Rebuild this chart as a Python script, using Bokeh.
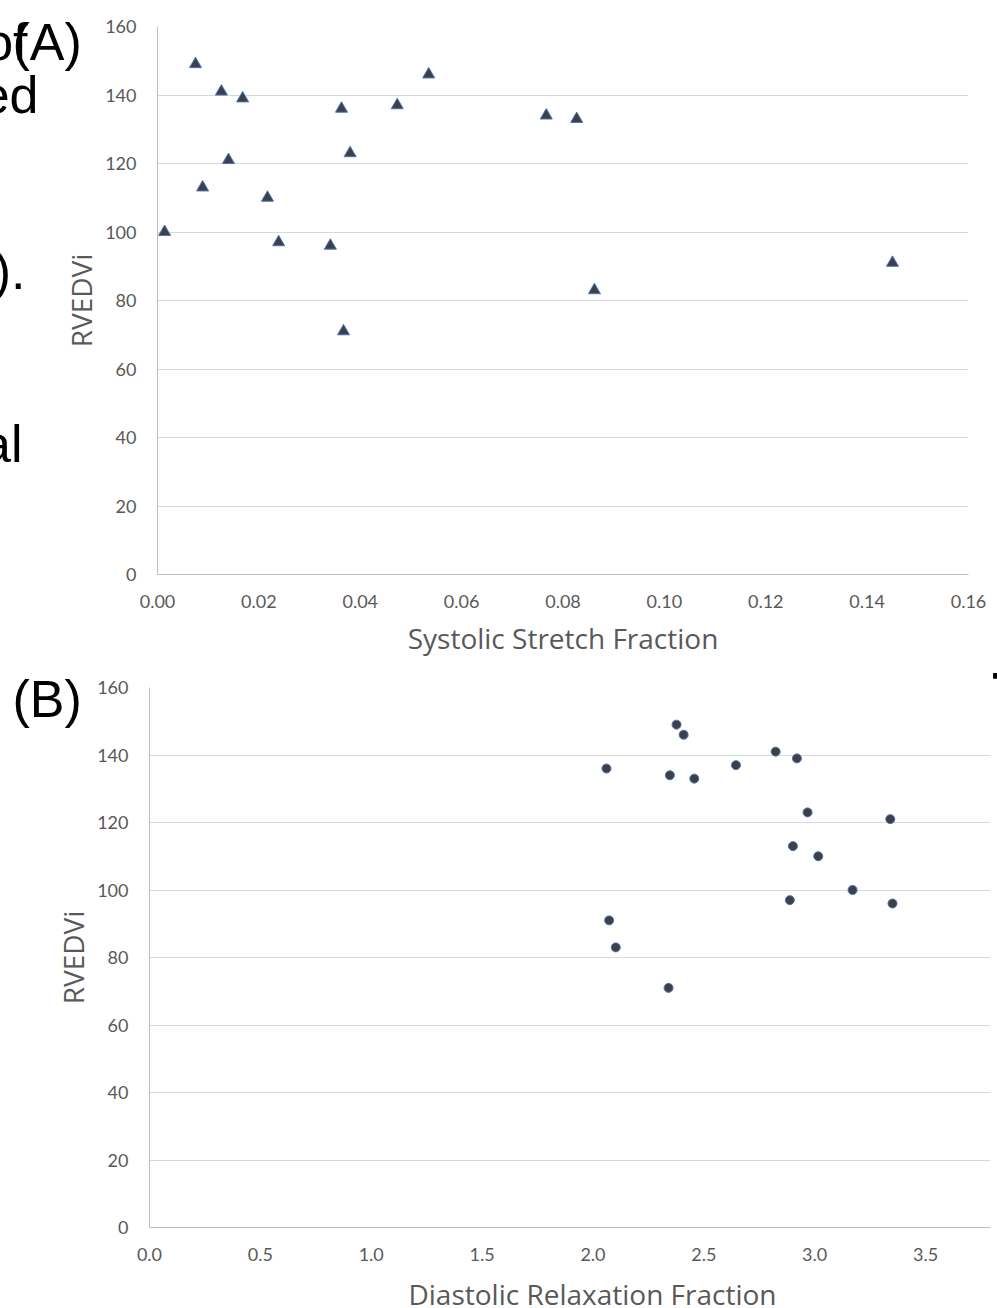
from bokeh.plotting import figure
from bokeh.models import FixedTicker, Range1d, ColumnDataSource
from bokeh.core.properties import value
from bokeh.embed import file_html
from bokeh.resources import INLINE

# ---- data ----
rvedvi = [100, 149, 113, 141, 121, 139, 110, 97, 96, 136, 71, 123, 137, 146, 134, 133, 83, 91]
systolic_stretch = [0.0014, 0.0075, 0.0089, 0.0126, 0.0140, 0.0168, 0.0217, 0.0239, 0.0341,
                    0.0363, 0.0367, 0.0380, 0.0473, 0.0535, 0.0767, 0.0827, 0.0862, 0.1450]
diastolic_relax = [3.171, 2.377, 2.902, 2.824, 3.341, 2.920, 3.016, 2.888, 3.351,
                   2.061, 2.341, 2.968, 2.645, 2.409, 2.347, 2.457, 2.103, 2.073]
y_ticks = [0, 20, 40, 60, 80, 100, 120, 140, 160]
x_ticks_a = [0.0, 0.02, 0.04, 0.06, 0.08, 0.10, 0.12, 0.14, 0.16]
x_labels_a = ["0.00", "0.02", "0.04", "0.06", "0.08", "0.10", "0.12", "0.14", "0.16"]
x_ticks_b = [0.0, 0.5, 1.0, 1.5, 2.0, 2.5, 3.0, 3.5]
x_labels_b = ["0.0", "0.5", "1.0", "1.5", "2.0", "2.5", "3.0", "3.5"]

TICK_FONT = "Lato"
LABEL_FONT = "Open Sans"
GRAY = "#595959"


def style(p, xticks, xlabels, xlabel):
    p.outline_line_color = None
    p.xgrid.grid_line_color = None
    p.ygrid.grid_line_color = "#d9d9d9"
    p.ygrid.grid_line_width = 1
    p.yaxis.ticker = FixedTicker(ticks=y_ticks)
    p.xaxis.ticker = FixedTicker(ticks=xticks)
    p.xaxis.major_label_overrides = {t: l for t, l in zip(xticks, xlabels)}
    for ax in (p.xaxis[0], p.yaxis[0]):
        ax.axis_line_color = "#bfbfbf"
        ax.axis_line_width = 1
        ax.major_tick_line_color = None
        ax.minor_tick_line_color = None
        ax.major_label_text_font = TICK_FONT
        ax.major_label_text_font_size = "18px"
        ax.major_label_text_color = GRAY
        ax.axis_label_text_font = LABEL_FONT
        ax.axis_label_text_font_style = "normal"
        ax.axis_label_text_color = GRAY
        ax.axis_label_text_font_size = "28px"
    if xlabel:
        p.xaxis.axis_label = xlabel
    p.yaxis.axis_label = "RVEDVi"
    p.xaxis.major_label_standoff = 14
    p.yaxis.major_label_standoff = 15
    p.xaxis.axis_label_standoff = 8
    p.yaxis.axis_label_standoff = 2


def fragments(p, left, bottom, xspan, yspan, fw, fh, items, bold=False,
              font="Liberation Sans", size="52px", color="black", baseline="alphabetic"):
    # text placed in page pixels (outside the frame), mapped to data units
    for txt, px, py, align in items:
        xd = (px - left) * xspan / fw
        yd = (bottom - py) * yspan / fh
        p.text(x=[xd], y=[yd], text=[txt], text_align=align, text_baseline=baseline,
               text_font=value(font), text_font_size=size,
               text_font_style="bold" if bold else "normal",
               text_color=color, level="overlay")


# ---- panel A ----
pa = figure(frame_width=811, frame_height=548, min_border_left=157, min_border_right=29,
            min_border_top=26, min_border_bottom=81, x_range=Range1d(0, 0.16),
            y_range=Range1d(0, 160), output_backend="svg", toolbar_location=None)
style(pa, x_ticks_a, x_labels_a, "Systolic Stretch Fraction")
src_a = ColumnDataSource(dict(x=systolic_stretch, y=rvedvi))
pa.scatter("x", "y", source=src_a, marker="triangle", size=12,
           fill_color="#404040", line_color="#4472C4", line_width=1)
fragments(pa, 157, 574, 0.16, 160, 811, 548, [
    ("of", 27, 41, "right"),
    ("(A)", 12, 41, "left"),
    ("ed", 38, 94, "right"),
    (").", 25, 270, "right"),
    ("al", 22, 443, "right"),
])

# ---- panel B ----
pb = figure(frame_width=841, frame_height=540, min_border_left=149, min_border_right=7,
            min_border_top=28, min_border_bottom=81, x_range=Range1d(0, 3.793),
            y_range=Range1d(0, 160), output_backend="svg", toolbar_location=None)
style(pb, x_ticks_b, x_labels_b, None)
src_b = ColumnDataSource(dict(x=diastolic_relax, y=rvedvi))
pb.scatter("x", "y", source=src_b, marker="circle", size=9,
           fill_color="#404040", line_color="#4472C4", line_width=1)
# axis title of the (wider, cropped) original chart, centred on its full plot area
fragments(pb, 149, 1227, 3.793, 160, 841, 540, [
    ("Diastolic Relaxation Fraction", 592, 1293, "center"),
], font=LABEL_FONT, size="28px", color=GRAY, baseline="middle")
fragments(pb, 149, 1227, 3.793, 160, 841, 540, [
    ("(B)", 12, 698, "left"),
])
fragments(pb, 149, 1227, 3.793, 160, 841, 540, [
    ("T", 992, 690, "left"),
], bold=True)

open("out.html", "w").write(file_html([pa, pb], INLINE))
